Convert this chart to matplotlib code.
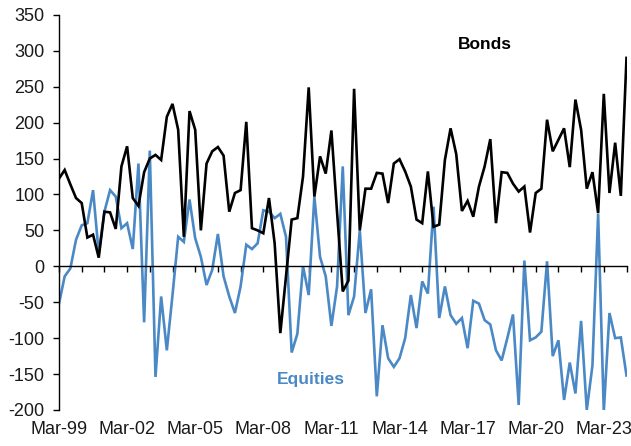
import matplotlib
matplotlib.use("Agg")
import matplotlib.pyplot as plt
import numpy as np

# Quarterly data, Mar-99 onward
bonds = [122, 134, 114, 95, 88, 40, 44, 12, 76, 75,
         52, 139, 167, 95, 84, 131, 150, 155, 148, 208,
         226, 190, 41, 216, 190, 50, 143, 160, 166, 154,
         76, 102, 106, 201, 53, 50, 46, 95, 32, -93,
         -14, 65, 67, 125, 249, 97, 153, 129, 189, 75,
         -35, -20, 247, 50, 108, 108, 130, 129, 88, 143,
         149, 132, 111, 65, 60, 132, 55, 58, 148, 192,
         156, 77, 91, 69, 111, 139, 177, 60, 131, 130,
         115, 104, 111, 47, 102, 108, 204, 160, 176, 192,
         138, 232, 190, 108, 131, 74, 240, 102, 172, 98,
         290]
equities = [-52, -14, -3, 37, 57, 60, 106, 18, 76, 106,
            97, 53, 60, 24, 143, -78, 161, -154, -42, -117,
            -40, 41, 34, 93, 39, 13, -26, -5, 45, -14,
            -42, -65, -28, 30, 24, 32, 78, 76, 67, 73,
            41, -120, -94, 0, -40, 97, 13, -14, -83, -28,
            139, -68, -42, 50, -65, -32, -181, -82, -128, -140,
            -128, -100, -40, -86, -21, -38, 83, -72, -28, -68,
            -80, -72, -114, -48, -52, -75, -81, -117, -131, -100,
            -67, -193, 8, -103, -99, -91, 7, -125, -103, -186,
            -134, -177, -76, -200, -138, 73, -202, -65, -100, -99,
            -152]
tick_labels = ["Mar-99", "Mar-02", "Mar-05", "Mar-08", "Mar-11", "Mar-14",
               "Mar-17", "Mar-20", "Mar-23"]
y_ticks = [-200, -150, -100, -50, 0, 50, 100, 150, 200, 250, 300, 350]

plt.rcParams['font.family'] = ['Liberation Sans', 'DejaVu Sans']
plt.rcParams['axes.unicode_minus'] = False

BLUE = '#4A89C5'
TXT = '#1a1a1a'

fig = plt.figure(figsize=(6.31, 4.46), dpi=100)
ax = fig.add_axes([59/631, 1-410/446, (626.5-59)/631, (410-14.8)/446])

x = np.arange(len(bonds))
ax.plot(x, equities, color=BLUE, lw=1.9, solid_joinstyle='miter')
ax.plot(x, bonds, color='black', lw=1.9, solid_joinstyle='miter')

ax.set_xlim(0, len(bonds) - 1)
ax.set_ylim(-200, 350)

for s in ['top', 'right']:
    ax.spines[s].set_visible(False)
ax.spines['bottom'].set_position(('data', 0))
ax.spines['bottom'].set_linewidth(1.0)
ax.spines['left'].set_linewidth(1.0)

ax.set_xticks(np.arange(0, len(bonds), 4))
ax.set_xticklabels([])
ax.tick_params(axis='x', direction='out', length=4.3, width=1.0, color='black')

ax.set_yticks(y_ticks)
ax.set_yticklabels([str(v) for v in y_ticks])
ax.tick_params(axis='y', direction='out', length=4.3, width=1.0, pad=6,
               labelsize=13, labelcolor=TXT)

sec = ax.secondary_xaxis(0.0)
sec.set_xticks(np.arange(len(tick_labels)) * 12)
sec.set_xticklabels(tick_labels)
sec.tick_params(length=0, pad=8, labelsize=13, labelcolor=TXT)
sec.spines['bottom'].set_visible(False)

ax.text(75.1, 308, "Bonds", color='black', fontsize=12.5, fontweight='bold',
        ha='center', va='center')
ax.text(44.4, -158, "Equities", color=BLUE, fontsize=12.5, fontweight='bold',
        ha='center', va='center')

fig.savefig("out.png", dpi=100)
